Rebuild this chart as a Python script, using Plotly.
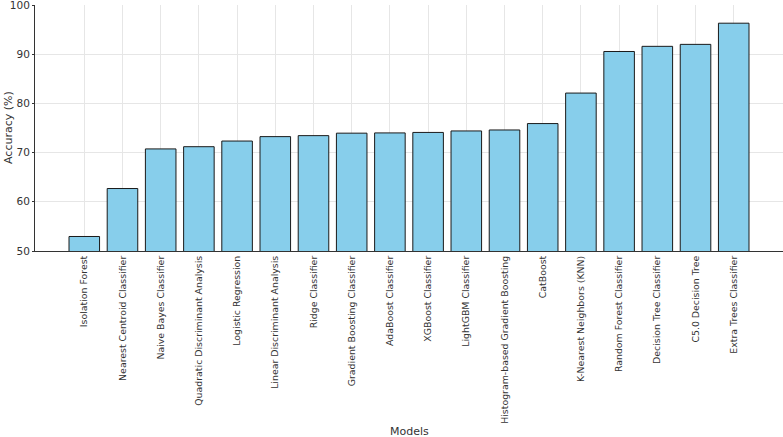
import plotly.graph_objects as go

models = [
    "Isolation Forest", "Nearest Centroid Classifier", "Naive Bayes Classifier",
    "Quadratic Discriminant Analysis", "Logistic Regression", "Linear Discriminant Analysis",
    "Ridge Classifier", "Gradient Boosting Classifier", "AdaBoost Classifier",
    "XGBoost Classifier", "LightGBM Classifier", "Histogram-based Gradient Boosting",
    "CatBoost", "K-Nearest Neighbors (KNN)", "Random Forest Classifier",
    "Decision Tree Classifier", "C5.0 Decision Tree", "Extra Trees Classifier",
]
accuracy = [52.95, 62.7, 70.75, 71.2, 72.35, 73.25, 73.45, 73.95, 74.0,
            74.1, 74.4, 74.6, 75.9, 82.1, 90.55, 91.6, 92.0, 96.3]
y_ticks = [50, 60, 70, 80, 90, 100]

fig = go.Figure(go.Bar(
    x=list(range(len(models))), y=accuracy,
    width=0.8,
    marker=dict(color="#87CEEB", line=dict(color="#1a1a1a", width=1)),
))

fig.update_layout(
    width=783, height=437,
    margin=dict(l=35, r=0, t=5, b=186),
    plot_bgcolor="white", paper_bgcolor="white",
    font=dict(family="DejaVu Sans", color="#333333", size=9),
    showlegend=False,
    annotations=[
        dict(text="Models", xref="paper", yref="paper", x=0.5, y=-0.0,
             xanchor="center", yanchor="middle", yshift=-180, showarrow=False,
             font=dict(size=11, color="#333333")),
        dict(text="Accuracy (%)", xref="paper", yref="paper", x=0, y=0.5,
             xanchor="center", yanchor="middle", xshift=-27, textangle=-90,
             showarrow=False, font=dict(size=11, color="#333333")),
    ],
)
fig.update_xaxes(
    range=[-1.29, 18.29],
    tickmode="array", tickvals=list(range(len(models))), ticktext=models,
    tickangle=-90, tickfont=dict(size=9.4, color="#333333"),
    showgrid=True, gridcolor="#e6e6e6", gridwidth=0.8,
    showline=True, linecolor="#333333", linewidth=1,
    ticks="", zeroline=False,
    automargin=False,
)
fig.update_yaxes(
    range=[50, 100], tickvals=y_ticks,
    tickfont=dict(size=10.5, color="#333333"),
    showgrid=True, gridcolor="#e6e6e6", gridwidth=0.8,
    showline=True, linecolor="#333333", linewidth=1,
    ticks="outside", ticklen=2, tickcolor="#333333",
    zeroline=False, ticklabeloverflow="allow",
    automargin=False,
)

fig.write_html("out.html", config={"displayModeBar": False},
               post_script="document.body.style.margin='0px';")
